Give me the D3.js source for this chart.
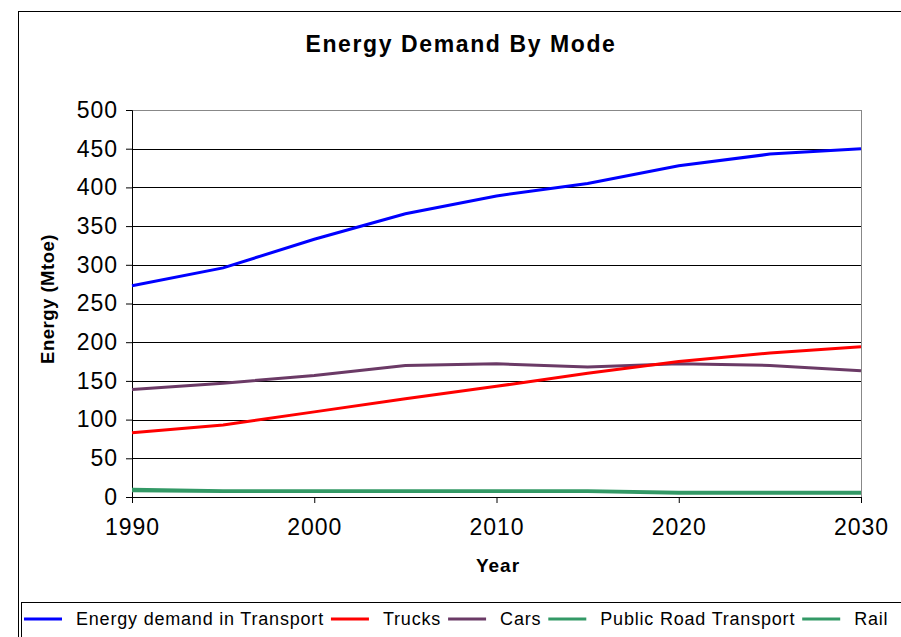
<!doctype html>
<html lang="en">
<head>
<meta charset="utf-8">
<title>Energy Demand By Mode</title>
<style>
  body { margin: 0; background: #fff; }
  text { font-family: "Liberation Sans", Arial, sans-serif; fill: #000; }
</style>
</head>
<body>
<script src="https://d3js.org/d3.v7.min.js"></script>
<script>
// data (Mtoe)
var years = [1990, 1995, 2000, 2005, 2010, 2015, 2020, 2025, 2030];
var transport = [273, 296, 333, 366, 389, 405, 428, 443, 450];
var trucks = [83, 93, 110, 127, 143, 160, 175, 186, 194];
var cars = [139, 147, 157, 170, 172, 168, 172, 170, 163];
var publicRoad = [10, 8, 8, 8, 8, 8, 6, 6, 6];
var rail = [8, 7, 7, 7, 7, 7, 5, 5, 5];
var seriesNames = ["Energy demand in Transport", "Trucks", "Cars", "Public Road Transport", "Rail"];
var seriesColors = ["#0000ff", "#ff0000", "#6b3a66", "#339966", "#339966"];
var yTicks = [0, 50, 100, 150, 200, 250, 300, 350, 400, 450, 500];
var xTicks = [1990, 2000, 2010, 2020, 2030];

var series = [transport, trucks, cars, publicRoad, rail];

var w = 901, h = 637;
var svg = d3.select("body").append("svg")
  .attr("width", w)
  .attr("height", h);

// chart frame
svg.append("rect")
  .attr("x", 18.5).attr("y", 11.5)
  .attr("width", 900).attr("height", 700)
  .attr("fill", "none").attr("stroke", "#000").attr("stroke-width", 1);

var x = d3.scaleLinear().domain([1990, 2030]).range([132, 861]);
var y = d3.scaleLinear().domain([0, 500]).range([497, 110]);

// gridlines
svg.append("g")
  .selectAll("line")
  .data(yTicks.filter(function(d) { return d > 0; }))
  .enter().append("line")
  .attr("x1", x(1990)).attr("x2", x(2030))
  .attr("y1", function(d) { return Math.round(y(d)) + 0.5; })
  .attr("y2", function(d) { return Math.round(y(d)) + 0.5; })
  .attr("stroke", function(d) { return d == 500 ? "#888" : "#000"; })
  .attr("stroke-width", 1);

// right edge of plot area
svg.append("line")
  .attr("x1", x(2030) + 0.5).attr("x2", x(2030) + 0.5)
  .attr("y1", y(500)).attr("y2", y(0))
  .attr("stroke", "#888");

// axes
var yAxis = d3.axisLeft(y).tickValues(yTicks).tickSize(6).tickPadding(8);
var gy = svg.append("g")
  .attr("transform", "translate(" + x(1990) + ",0)")
  .call(yAxis);
gy.selectAll("text")
  .style("font-size", "23px")
  .style("letter-spacing", "1px")
  .style("font-family", "'Liberation Sans', Arial, sans-serif");

var xAxis = d3.axisBottom(x).tickValues(xTicks).tickFormat(d3.format("d")).tickSize(6).tickPadding(16);
var gx = svg.append("g")
  .attr("transform", "translate(0," + y(0) + ")")
  .call(xAxis);
gx.selectAll("text")
  .style("font-size", "23px")
  .style("letter-spacing", "1px")
  .style("font-family", "'Liberation Sans', Arial, sans-serif");

svg.selectAll(".domain").attr("stroke", "#000");
svg.selectAll(".tick line").attr("stroke", "#000");

// lines
var line = d3.line()
  .x(function(d, i) { return x(years[i]); })
  .y(function(d) { return y(d); });

svg.append("g")
  .selectAll("path")
  .data(series.slice().reverse())
  .enter().append("path")
  .attr("d", line)
  .attr("fill", "none")
  .attr("stroke", function(d, i) { return seriesColors[series.length - 1 - i]; })
  .attr("stroke-width", 3);

// titles
svg.append("text")
  .attr("x", 461).attr("y", 52)
  .attr("text-anchor", "middle")
  .style("font-size", "23px")
  .style("font-weight", "bold")
  .style("letter-spacing", "1.6px")
  .text("Energy Demand By Mode");

svg.append("text")
  .attr("x", 498).attr("y", 572)
  .attr("text-anchor", "middle")
  .style("font-size", "19px")
  .style("font-weight", "bold")
  .style("letter-spacing", "1px")
  .text("Year");

svg.append("text")
  .attr("transform", "translate(54,299) rotate(-90)")
  .attr("text-anchor", "middle")
  .style("font-size", "18.5px")
  .style("font-weight", "bold")
  .style("letter-spacing", "0.5px")
  .text("Energy (Mtoe)");

// legend
var legend = svg.append("g");
legend.append("rect")
  .attr("x", 21.5).attr("y", 602.5)
  .attr("width", 900).attr("height", 60)
  .attr("fill", "#fff").attr("stroke", "#000");

var lx = 24;
seriesNames.forEach(function(name, i) {
  legend.append("line")
    .attr("x1", lx).attr("x2", lx + 38)
    .attr("y1", 619).attr("y2", 619)
    .attr("stroke", seriesColors[i]).attr("stroke-width", 3);
  var t = legend.append("text")
    .attr("x", lx + 52).attr("y", 625)
    .style("font-size", "18px")
    .style("letter-spacing", "0.8px")
    .text(name);
  lx += 52 + t.node().getComputedTextLength() + 7;
});
</script>
</body>
</html>
